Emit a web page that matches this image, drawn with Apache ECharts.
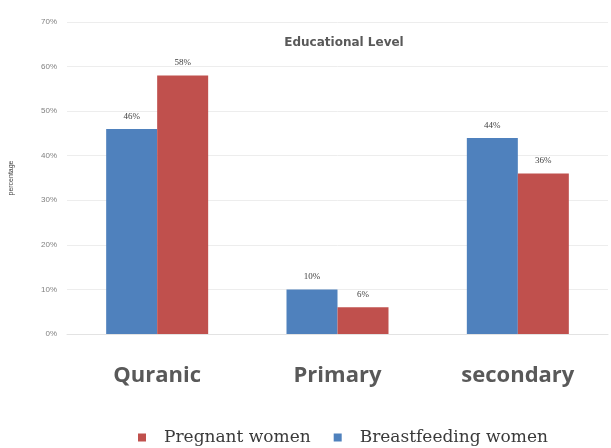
<!DOCTYPE html>
<html>
<head>
<meta charset="utf-8">
<script src="https://cdn.jsdelivr.net/npm/echarts@6/dist/echarts.min.js"></script>
<style>
html,body{margin:0;padding:0;background:#fff;}
#chart{width:611px;height:448px;}
</style>
</head>
<body>
<div id="chart"></div>
<script>
// Educational level by group (percent)
const categories = ['Quranic', 'Primary', 'secondary'];
const breastfeeding = [46, 10, 44];
const pregnant = [58, 6, 36];
const yTicks = [0, 10, 20, 30, 40, 50, 60, 70];

const chart = echarts.init(document.getElementById('chart'));

const labelStyle = {
  show: true,
  position: 'top',
  distance: 8,
  formatter: p => p.value + '%',
  fontSize: 9,
  color: '#404040',
  fontFamily: 'Liberation Serif'
};

chart.setOption({
  animation: false,
  backgroundColor: '#fff',
  title: {
    text: 'Educational Level',
    left: 339,
    textAlign: 'center',
    top: 32,
    textStyle: { fontSize: 12, fontWeight: 'bold', color: '#595959', fontFamily: 'DejaVu Sans' }
  },
  legend: {
    data: ['Pregnant women', 'Breastfeeding women'],
    top: 429,
    left: 138,
    padding: 0,
    itemWidth: 8,
    itemHeight: 8,
    itemGap: 23,
    icon: 'rect',
    textStyle: { fontSize: 17, color: '#3a3a3a', fontFamily: 'DejaVu Serif', padding: [0, 0, 0, 13] }
  },
  grid: { left: 65, right: 3, top: 22, bottom: 114, containLabel: false },
  xAxis: {
    type: 'category',
    data: categories,
    axisLine: { show: true, lineStyle: { color: '#e3e3e3' } },
    axisTick: { show: false },
    axisLabel: { margin: 31, fontSize: 22, fontWeight: 'bold', color: '#595959', fontFamily: 'Open Sans' }
  },
  yAxis: {
    type: 'value',
    min: 0,
    max: 70,
    interval: 10,
    name: 'percentage',
    nameLocation: 'middle',
    nameGap: 52,
    nameTextStyle: { fontSize: 7, color: '#404040' },
    axisLine: { show: false },
    axisTick: { show: false },
    splitLine: { lineStyle: { color: '#ededed' } },
    axisLabel: {
      margin: 10,
      fontSize: 8,
      color: '#808080',
      formatter: v => (yTicks.includes(v) ? v + '%' : '')
    }
  },
  series: [
    {
      name: 'Breastfeeding women',
      type: 'bar',
      data: breastfeeding,
      barWidth: 51,
      barGap: '0%',
      itemStyle: { color: '#4f81bd' },
      label: labelStyle
    },
    {
      name: 'Pregnant women',
      type: 'bar',
      data: pregnant,
      barWidth: 51,
      barGap: '0%',
      itemStyle: { color: '#c0504d' },
      label: labelStyle
    }
  ]
});
</script>
</body>
</html>
